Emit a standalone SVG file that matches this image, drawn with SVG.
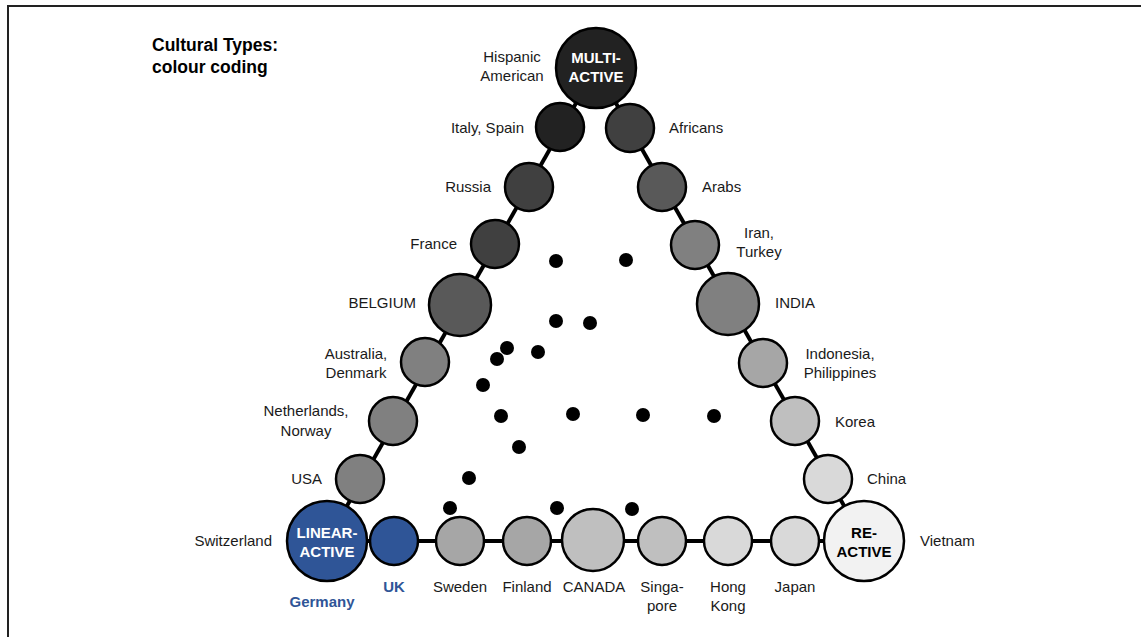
<svg xmlns="http://www.w3.org/2000/svg" width="1141" height="637" viewBox="0 0 1141 637">
  <style>
    .frame { fill: #ffffff; stroke: #222222; stroke-width: 2; }
    .edge { stroke: #000000; stroke-width: 4; fill: none; }
    .node { stroke: #000000; stroke-width: 2.5; }
    .dot { fill: #000000; }
    text { font-family: "Liberation Sans", Arial, sans-serif; font-size: 15px; fill: #1a1a1a; }
    .title { font-weight: bold; font-size: 17.5px; fill: #000000; }
    .hub { font-weight: bold; font-size: 15px; fill: #ffffff; text-anchor: middle; }
    .hub-dark { font-weight: bold; font-size: 15px; fill: #000000; text-anchor: middle; }
    .blue { font-weight: bold; fill: #2f5597; text-anchor: middle; }
    .mid { text-anchor: middle; }
    .end { text-anchor: end; }
  </style>

  <rect class="frame" x="8" y="6" width="1150" height="650"/>

  <text class="title" x="152" y="51">Cultural Types:</text>
  <text class="title" x="152" y="73">colour coding</text>

  <!-- triangle sides -->
  <g id="connectors">
    <line class="edge" x1="596" y1="68" x2="327" y2="541"/>
    <line class="edge" x1="596" y1="68" x2="864" y2="541"/>
    <line class="edge" x1="327" y1="541" x2="864" y2="541"/>
  </g>

  <!-- interior markers -->
  <g id="dots">
    <circle class="dot" cx="556" cy="261" r="7"/>
    <circle class="dot" cx="626" cy="260" r="7"/>
    <circle class="dot" cx="556" cy="321" r="7"/>
    <circle class="dot" cx="590" cy="323" r="7"/>
    <circle class="dot" cx="507" cy="348" r="7"/>
    <circle class="dot" cx="497" cy="359" r="7"/>
    <circle class="dot" cx="538" cy="352" r="7"/>
    <circle class="dot" cx="483" cy="385" r="7"/>
    <circle class="dot" cx="501" cy="416" r="7"/>
    <circle class="dot" cx="573" cy="414" r="7"/>
    <circle class="dot" cx="643" cy="415" r="7"/>
    <circle class="dot" cx="714" cy="416" r="7"/>
    <circle class="dot" cx="519" cy="447" r="7"/>
    <circle class="dot" cx="469" cy="478" r="7"/>
    <circle class="dot" cx="450" cy="508" r="7"/>
    <circle class="dot" cx="557" cy="508" r="7"/>
    <circle class="dot" cx="632" cy="509" r="7"/>
  </g>

  <!-- multi-active corner and left side -->
  <g id="multi-active">
    <circle class="node" cx="596" cy="68" r="40" fill="#222222"/>
    <text class="hub" x="596" y="63">MULTI-</text>
    <text class="hub" x="596" y="82">ACTIVE</text>
    <text class="mid" x="512" y="62">Hispanic</text>
    <text class="mid" x="512" y="81">American</text>
  </g>
  <g id="italy-spain">
    <circle class="node" cx="560" cy="127" r="24" fill="#222222"/>
    <text class="end" x="524" y="133">Italy, Spain</text>
  </g>
  <g id="russia">
    <circle class="node" cx="529" cy="187" r="24" fill="#404040"/>
    <text class="end" x="491" y="192">Russia</text>
  </g>
  <g id="france">
    <circle class="node" cx="495" cy="244" r="24" fill="#404040"/>
    <text class="end" x="457" y="249">France</text>
  </g>
  <g id="belgium">
    <circle class="node" cx="460" cy="305" r="31" fill="#595959"/>
    <text class="end" x="416" y="308">BELGIUM</text>
  </g>
  <g id="australia-denmark">
    <circle class="node" cx="425" cy="362" r="24" fill="#808080"/>
    <text class="mid" x="356" y="359">Australia,</text>
    <text class="mid" x="356" y="378">Denmark</text>
  </g>
  <g id="netherlands-norway">
    <circle class="node" cx="393" cy="421" r="24" fill="#808080"/>
    <text class="mid" x="306" y="416">Netherlands,</text>
    <text class="mid" x="306" y="436">Norway</text>
  </g>
  <g id="usa">
    <circle class="node" cx="360" cy="479" r="24" fill="#808080"/>
    <text class="end" x="322" y="484">USA</text>
  </g>

  <!-- linear-active corner and bottom side -->
  <g id="linear-active">
    <circle class="node" cx="327" cy="541" r="40" fill="#2f5597"/>
    <text class="hub" x="327" y="538">LINEAR-</text>
    <text class="hub" x="327" y="557">ACTIVE</text>
    <text class="end" x="272" y="546">Switzerland</text>
    <text class="blue" x="322" y="607">Germany</text>
  </g>
  <g id="uk">
    <circle class="node" cx="394" cy="541" r="24" fill="#2f5597"/>
    <text class="blue" x="394" y="592">UK</text>
  </g>
  <g id="sweden">
    <circle class="node" cx="460" cy="541" r="24" fill="#a6a6a6"/>
    <text class="mid" x="460" y="592">Sweden</text>
  </g>
  <g id="finland">
    <circle class="node" cx="527" cy="541" r="24" fill="#a6a6a6"/>
    <text class="mid" x="527" y="592">Finland</text>
  </g>
  <g id="canada">
    <circle class="node" cx="593" cy="540" r="31" fill="#bfbfbf"/>
    <text class="mid" x="594" y="592">CANADA</text>
  </g>
  <g id="singapore">
    <circle class="node" cx="662" cy="541" r="24" fill="#bfbfbf"/>
    <text class="mid" x="662" y="592">Singa-</text>
    <text class="mid" x="662" y="611">pore</text>
  </g>
  <g id="hong-kong">
    <circle class="node" cx="728" cy="541" r="24" fill="#d9d9d9"/>
    <text class="mid" x="728" y="592">Hong</text>
    <text class="mid" x="728" y="611">Kong</text>
  </g>
  <g id="japan">
    <circle class="node" cx="795" cy="541" r="24" fill="#d9d9d9"/>
    <text class="mid" x="795" y="592">Japan</text>
  </g>

  <!-- reactive corner and right side -->
  <g id="re-active">
    <circle class="node" cx="864" cy="541" r="40" fill="#f2f2f2"/>
    <text class="hub-dark" x="864" y="538">RE-</text>
    <text class="hub-dark" x="864" y="557">ACTIVE</text>
    <text x="920" y="546">Vietnam</text>
  </g>
  <g id="china">
    <circle class="node" cx="828" cy="479" r="24" fill="#d9d9d9"/>
    <text x="867" y="484">China</text>
  </g>
  <g id="korea">
    <circle class="node" cx="795" cy="421" r="24" fill="#bfbfbf"/>
    <text x="835" y="427">Korea</text>
  </g>
  <g id="indonesia-philippines">
    <circle class="node" cx="763" cy="363" r="24" fill="#a6a6a6"/>
    <text class="mid" x="840" y="359">Indonesia,</text>
    <text class="mid" x="840" y="378">Philippines</text>
  </g>
  <g id="india">
    <circle class="node" cx="728" cy="304" r="31" fill="#808080"/>
    <text x="775" y="308">INDIA</text>
  </g>
  <g id="iran-turkey">
    <circle class="node" cx="695" cy="245" r="24" fill="#808080"/>
    <text class="mid" x="759" y="238">Iran,</text>
    <text class="mid" x="759" y="257">Turkey</text>
  </g>
  <g id="arabs">
    <circle class="node" cx="662" cy="187" r="24" fill="#595959"/>
    <text x="702" y="192">Arabs</text>
  </g>
  <g id="africans">
    <circle class="node" cx="630" cy="128" r="24" fill="#404040"/>
    <text x="669" y="133">Africans</text>
  </g>
</svg>
